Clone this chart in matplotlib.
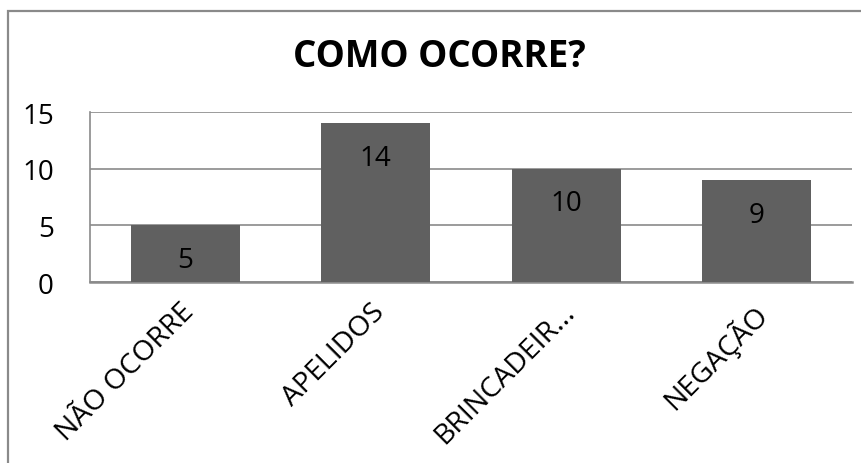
"""Bar chart: COMO OCORRE? (Excel-style look)."""

import matplotlib

matplotlib.use("Agg")
import matplotlib.pyplot as plt
import matplotlib.transforms as mtransforms
from matplotlib.patches import Rectangle

CATEGORIES = ["NÃO OCORRE", "APELIDOS", "BRINCADEIR...", "NEGAÇÃO"]
VALUES = [5, 14, 10, 9]
Y_TICKS = [0, 5, 10, 15]
TITLE = "COMO OCORRE?"

BAR_COLOR = "#606060"
GRID_COLOR = "#8a8a8a"
FONT = ["Open Sans", "DejaVu Sans"]

plt.rcParams["font.family"] = FONT

W, H = 862, 464
fig = plt.figure(figsize=(W / 100, H / 100), dpi=100)

# outer chart frame (cut off at right and bottom in the reference)
fig.add_artist(
    Rectangle((8 / W, -0.1), 1.2, (H - 12) / H + 0.1, transform=fig.transFigure,
              fill=False, edgecolor=GRID_COLOR, linewidth=1.6)
)

ax = fig.add_axes([90 / W, (H - 283) / H, (852 - 90) / W, (283 - 113) / H])
x = list(range(len(CATEGORIES)))
ax.bar(x, VALUES, width=0.57, color=BAR_COLOR, zorder=3)

ax.set_xlim(-0.5, len(CATEGORIES) - 0.5)
ax.set_ylim(0, 15)
ax.set_yticks(Y_TICKS)
ax.set_yticklabels([str(t) for t in Y_TICKS], fontsize=20)
ax.tick_params(axis="y", length=0, pad=26)
ax.grid(axis="y", color=GRID_COLOR, linewidth=1.2, zorder=0)

ax.set_xticks(x)
ax.set_xticklabels(CATEGORIES, fontsize=20.5, rotation=45, ha="right", rotation_mode="anchor")
ax.tick_params(axis="x", length=0, pad=11)
shift = mtransforms.ScaledTranslation(-5 / 100, 0, fig.dpi_scale_trans)
for lbl in ax.get_xticklabels():
    lbl.set_transform(lbl.get_transform() + shift)

for side in ["top", "right"]:
    ax.spines[side].set_visible(False)
for side in ["left", "bottom"]:
    ax.spines[side].set_color(GRID_COLOR)
ax.spines["left"].set_linewidth(1.2)
ax.spines["bottom"].set_linewidth(1.8)

for xi, v in zip(x, VALUES):
    ax.annotate(str(v), (xi, v), xytext=(0, -25), textcoords="offset points",
                ha="center", va="center", fontsize=20, color="black", zorder=4)

fig.text(439 / W, (H - 67) / H, TITLE, ha="center", va="baseline",
         fontsize=26.5, fontweight="bold")

fig.savefig("out.png", dpi=100)
